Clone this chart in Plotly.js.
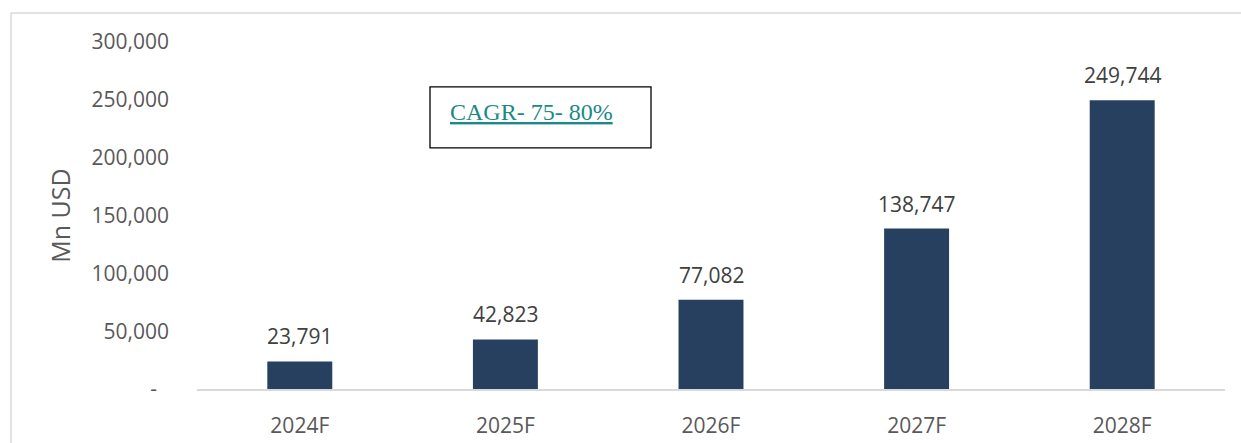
<!DOCTYPE html>
<html>
<head>
<meta charset="utf-8">
<script src="https://cdn.plot.ly/plotly-3.0.1.min.js"></script>
<style>html,body{margin:0;padding:0;background:#fff;}#chart{width:1241px;height:443px;}</style>
</head>
<body>
<div id="chart"></div>
<script>
const categories = ["2024F", "2025F", "2026F", "2027F", "2028F"];
const values = [23791, 42823, 77082, 138747, 249744];
const valueLabels = ["23,791", "42,823", "77,082", "138,747", "249,744"];
const yTickVals = [0, 50000, 100000, 150000, 200000, 250000, 300000];
const yTickText = ["-\u2007", "50,000", "100,000", "150,000", "200,000", "250,000", "300,000"];
const cagrText = "CAGR- 75- 80%";

const FONT = "Open Sans, Noto Sans, sans-serif";

const trace = {
  type: "bar",
  x: categories,
  y: values,
  marker: {color: "#274060"},
  width: 0.316,
  hoverinfo: "none"
};

const annotations = categories.map((c, i) => ({
  x: c, y: values[i], xref: "x", yref: "y",
  text: valueLabels[i], showarrow: false,
  yanchor: "middle", yshift: 25,
  font: {family: FONT, size: 21, color: "#404040"}
}));

annotations.push({
  xref: "paper", yref: "paper",
  x: (448 - 197) / 1028, y: (389.5 - 112) / 347.5,
  xanchor: "left", yanchor: "middle",
  text: "<u>" + cagrText + "</u>", showarrow: false,
  font: {family: "Liberation Serif, Times New Roman, serif", size: 24, color: "#1b8a86"}
});

const px = v => (v - 197) / 1028;
const py = v => (389.5 - v) / 347.5;

const shapes = [
  {type: "rect", xref: "paper", yref: "paper", x0: px(430), x1: px(651), y0: py(148), y1: py(87),
   line: {color: "#000000", width: 1.3}, fillcolor: "rgba(0,0,0,0)"},
  {type: "line", xref: "paper", yref: "paper", x0: px(11), x1: px(1250), y0: py(13), y1: py(13),
   line: {color: "#d9d9d9", width: 1.5}},
  {type: "line", xref: "paper", yref: "paper", x0: px(11), x1: px(11), y0: py(13), y1: py(460),
   line: {color: "#d9d9d9", width: 1.5}}
];

const layout = {
  width: 1241, height: 443,
  margin: {l: 197, r: 16, t: 42, b: 53.5},
  paper_bgcolor: "#ffffff", plot_bgcolor: "#ffffff",
  showlegend: false,
  font: {family: FONT, size: 21, color: "#595959"},
  xaxis: {
    type: "category",
    showgrid: false, zeroline: false,
    showline: true, linecolor: "#d9d9d9", linewidth: 1.5,
    ticks: "", ticklabelstandoff: 17,
    tickfont: {family: FONT, size: 21, color: "#595959"},
    fixedrange: true
  },
  yaxis: {
    range: [0, 300000],
    showgrid: false, zeroline: false, showline: false,
    tickvals: yTickVals, ticktext: yTickText,
    ticks: "", ticklabelstandoff: 27,
    tickfont: {family: FONT, size: 21, color: "#595959"},
    title: {text: "Mn USD", font: {family: FONT, size: 25, color: "#595959"}, standoff: 13},
    fixedrange: true
  },
  annotations: annotations,
  shapes: shapes
};

Plotly.newPlot("chart", [trace], layout, {displayModeBar: false, staticPlot: true});
</script>
</body>
</html>
